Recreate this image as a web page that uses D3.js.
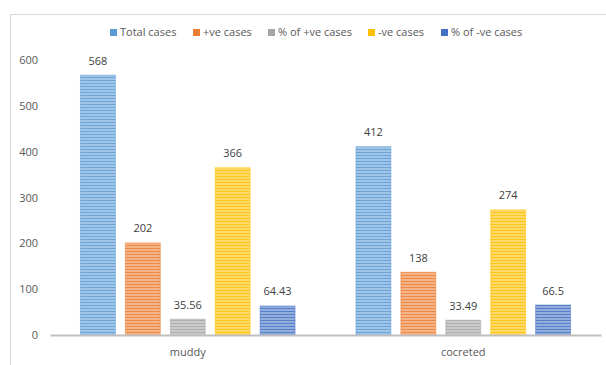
<!DOCTYPE html>
<html>
<head>
<meta charset="utf-8">
<script src="https://cdn.jsdelivr.net/npm/d3@7/dist/d3.min.js"></script>
<style>
  html, body { margin: 0; padding: 0; background: #fff; }
  svg { display: block; font-family: "Open Sans", "Noto Sans", sans-serif; }
</style>
</head>
<body>
<svg id="chart" width="606" height="365"></svg>
<script>
// Chart data
const categories = ["muddy", "cocreted"];
const seriesNames = ["Total cases", "+ve cases", "% of +ve cases", "-ve cases", "% of -ve cases"];
const muddyValues = [568, 202, 35.56, 366, 64.43];
const cocretedValues = [412, 138, 33.49, 274, 66.5];
const valueLabels = [["568", "202", "35.56", "366", "64.43"], ["412", "138", "33.49", "274", "66.5"]];
const yTicks = [0, 100, 200, 300, 400, 500, 600];
const seriesColors = ["#5b9bd5", "#ed7d31", "#a5a5a5", "#ffc000", "#4472c4"];

const values = [muddyValues, cocretedValues];

const svg = d3.select("#chart");
const W = 606, H = 365;

// Outer chart border
svg.append("rect")
  .attr("x", 10.5).attr("y", 14.5)
  .attr("width", W).attr("height", H)
  .attr("fill", "none").attr("stroke", "#d9d9d9").attr("stroke-width", 1);

// Striped fills for each series
const defs = svg.append("defs");
seriesColors.forEach((c, i) => {
  const light = d3.interpolateRgb(c, "#ffffff")(0.42);
  const p = defs.append("pattern")
    .attr("id", "stripe" + i)
    .attr("patternUnits", "userSpaceOnUse")
    .attr("width", 8).attr("height", 3);
  p.append("rect").attr("width", 8).attr("height", 3).attr("fill", light);
  p.append("rect").attr("y", 2).attr("width", 8).attr("height", 1)
    .attr("fill", d3.interpolateRgb(c, "#ffffff")(0.1));
});

// Scales
const x0 = d3.scaleBand().domain(categories).range([50, 601]).padding(0);
const x1 = d3.scaleBand().domain(seriesNames).range([0, x0.bandwidth()])
  .paddingInner(0.2).paddingOuter(0.667);
const y = d3.scaleLinear().domain([0, 600]).range([335, 60]);

// Y axis labels
const yAxis = d3.axisLeft(y).tickValues(yTicks).tickSize(0).tickPadding(0);
const gy = svg.append("g").attr("transform", "translate(38,0)").call(yAxis);
gy.select(".domain").remove();
gy.selectAll("text")
  .attr("fill", "#595959").attr("font-size", "11px")
  .attr("font-family", "\"Open Sans\", \"Noto Sans\", sans-serif");

// Bars
categories.forEach((cat, ci) => {
  const g = svg.append("g").attr("transform", `translate(${x0(cat)},0)`);
  seriesNames.forEach((s, si) => {
    const v = values[ci][si];
    g.append("rect")
      .attr("x", x1(s) + 0.5)
      .attr("y", y(v) + 0.5)
      .attr("width", x1.bandwidth() - 1)
      .attr("height", y(0) - y(v) - 0.5)
      .attr("fill", `url(#stripe${si})`)
      .attr("stroke", seriesColors[si])
      .attr("stroke-opacity", 0.5)
      .attr("stroke-width", 1);
    g.append("text")
      .attr("x", x1(s) + x1.bandwidth() / 2)
      .attr("y", y(v) - 10)
      .attr("text-anchor", "middle")
      .attr("fill", "#404040")
      .attr("font-size", "11px")
      .text(valueLabels[ci][si]);
  });
});

// X axis baseline and category labels
const xAxis = d3.axisBottom(x0).tickSize(0).tickPadding(13);
const gx = svg.append("g").attr("transform", `translate(0,${y(0)})`).call(xAxis);
gx.select(".domain").attr("stroke", "#bfbfbf").attr("stroke-width", 2);
gx.selectAll("text")
  .attr("fill", "#595959").attr("font-size", "11px")
  .attr("font-family", "\"Open Sans\", \"Noto Sans\", sans-serif");

// Legend
const legendX = [110, 193, 268, 368, 441];
const legend = svg.append("g");
seriesNames.forEach((s, i) => {
  legend.append("rect")
    .attr("x", legendX[i]).attr("y", 29)
    .attr("width", 7).attr("height", 7)
    .attr("fill", seriesColors[i]);
  legend.append("text")
    .attr("x", legendX[i] + 10).attr("y", 36)
    .attr("fill", "#595959").attr("font-size", "11px")
    .text(s);
});
</script>
</body>
</html>
